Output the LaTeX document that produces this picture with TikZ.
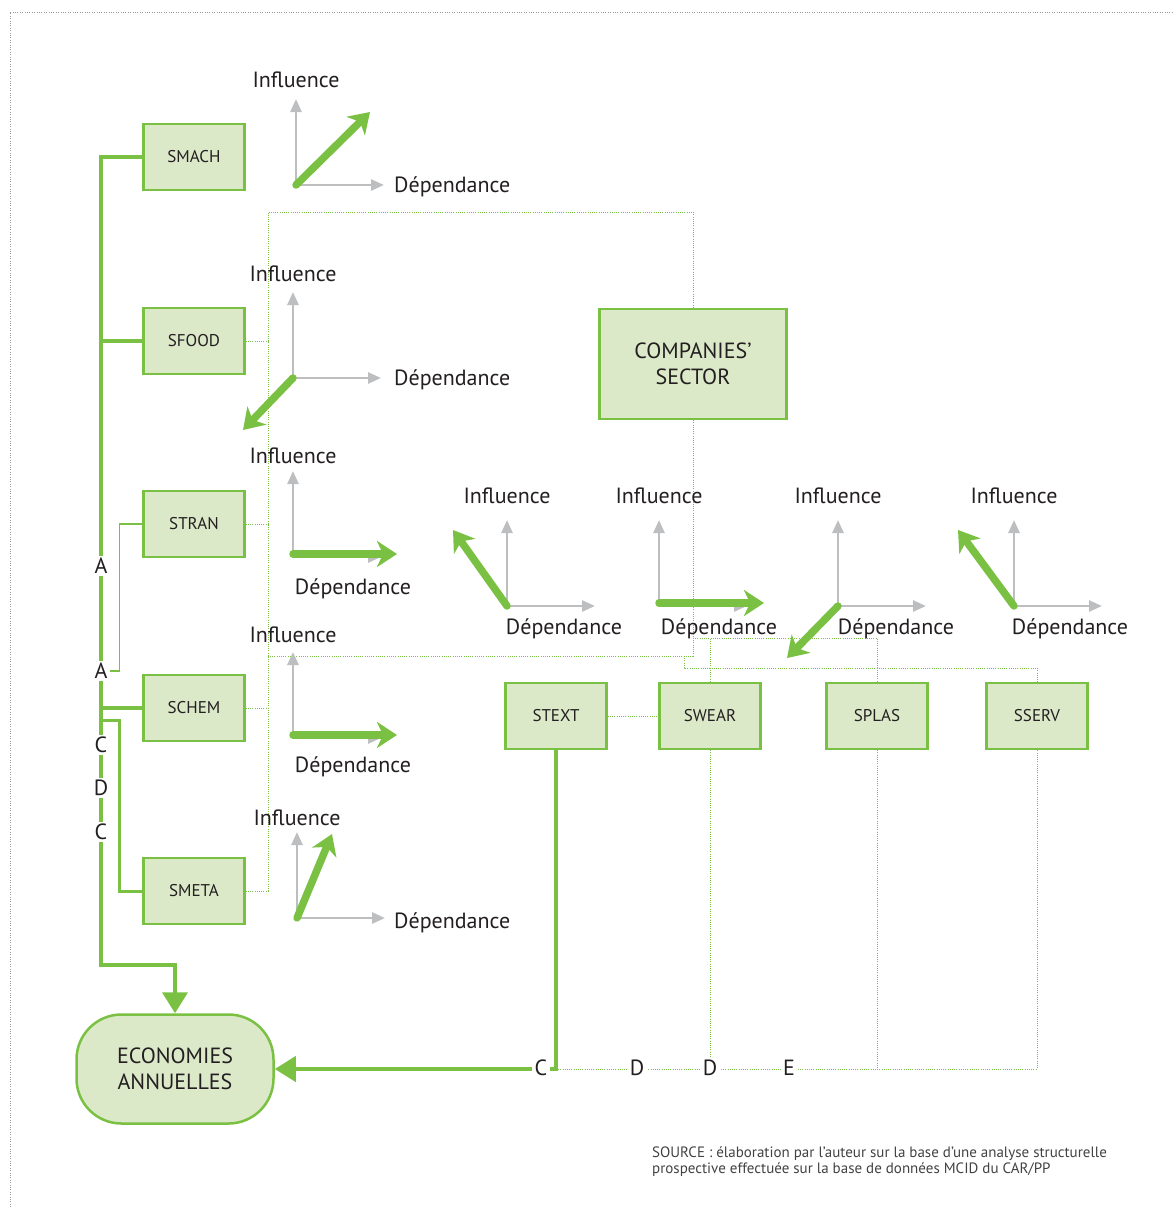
\documentclass[tikz,border=0pt]{standalone}
\usepackage{fontspec}
\setmainfont{PT Sans}
\usepackage{tikz}
\usetikzlibrary{arrows.meta, calc, positioning}

\definecolor{leaf}{HTML}{7AC143}
\definecolor{pale}{HTML}{DCE9C9}
\definecolor{axisgray}{HTML}{BCBEC0}
\definecolor{ink}{HTML}{231F20}

\tikzset{
  sector/.style={draw=leaf, fill=pale, line width=2.5pt, minimum width=101pt,
    minimum height=66pt, text=ink, font=\fontsize{17}{20}\selectfont},
  axis/.style={draw=axisgray, line width=2.6pt, -{Triangle[length=13pt,width=11pt]}},
  trend/.style={draw=leaf, line width=7.5pt, line cap=round,
    -{Stealth[length=20pt,width=26pt,inset=6pt]}},
  axislabel/.style={text=ink, inner sep=0pt, font=\fontsize{22}{26}\selectfont},
  bus/.style={draw=leaf, line width=4pt},
  link/.style={draw=leaf, line width=1pt, dash pattern=on 1pt off 1.2pt},
  tag/.style={fill=white, text=ink, inner sep=2.5pt, font=\fontsize{22}{24}\selectfont},
  bigtip/.style={-{Triangle[length=21pt,width=25pt]}},
}

% axes of one small chart, with its Influence label
\newcommand{\chart}[4]{%
  \coordinate (#1) at (#2,#3);
  \draw[axis] (#1) -- ++(0,-86);
  \draw[axis] (#1) -- ++(88,0);
  \node[axislabel, anchor=base] (#1inf) at ($(#1)+(0,#4)$) {Influence};
}

\begin{document}
\begin{tikzpicture}[x=1pt, y=-1pt]
\useasboundingbox (0,0) rectangle (1173,1207);
\draw[draw=axisgray!80!black, line width=0.8pt, dash pattern=on 0.8pt off 1.6pt]
  (10,1207) -- (10,12) -- (1173,12);

% boxes
\node[sector] (smach) at (194,157) {SMACH};
\node[sector] (sfood) at (194,341) {SFOOD};
\node[sector] (stran) at (194,524) {STRAN};
\node[sector] (schem) at (194,708) {SCHEM};
\node[sector] (smeta) at (194,891) {SMETA};
\node[sector] (stext) at (556,716) {STEXT};
\node[sector] (swear) at (710,716) {SWEAR};
\node[sector] (splas) at (877,716) {SPLAS};
\node[sector] (sserv) at (1037,716) {SSERV};
\node[sector, minimum width=187pt, minimum height=110pt, align=center,
  font=\fontsize{22}{26}\selectfont] (cs) at (693,364) {COMPANIES’\\SECTOR};
\node[sector, rounded corners=45pt, minimum width=197pt, minimum height=109pt,
  align=center, font=\fontsize{22}{26}\selectfont] (eco) at (175,1069) {ECONOMIES\\ANNUELLES};

% dotted links round the companies' sector
\coordinate (tl) at (268,212);
\draw[link] (cs.north) |- (tl) -- (tl |- smeta.east) -- (smeta.east);
\foreach \s in {sfood,stran,schem}
  \draw[link] (\s.east) -- (\s.east -| tl);
\draw[link] (cs.south) |- (tl |- 0,656);
\draw[link] (cs.south |- 0,638) -| (splas.north);
\draw[link] (swear.north) -- (swear.north |- 0,638);
\draw[link] (684,656) |- (sserv.north |- 0,668) -- (sserv.north);
\draw[link] (stext.east) -- (swear.west);

% left bus down to the savings
\coordinate (bus) at (101,157);
\draw[bus, bigtip] (smach.west) -| (101,965) -| (eco.north);
\draw[bus] (sfood.west) -- (sfood.west -| bus);
\draw[bus] (schem.west) -- (schem.west -| bus);
\draw[draw=leaf, line width=3pt] (smeta.west) -- ++(-23,0) |- (101,720);
\node[tag] (a1) at (101,566) {A};
\node[tag] (a2) at (101,671) {A};
\node[tag] (c1) at (101,745) {C};
\node[tag] (d1) at (101,788) {D};
\node[tag] (c2) at (101,832) {C};
\draw[draw=leaf, line width=1.3pt] (stran.west) -- ++(-23,0) |- (a2.east);

% bottom line into the savings
\draw[bus, bigtip] (stext.south) |- (eco.east);
\draw[link] (stext.south |- eco.east) -- (sserv.south |- eco.east) -- (sserv.south);
\draw[link] (splas.south) -- (splas.south |- eco.east);
\node[tag] (c3) at (541,1068) {C};
\node[tag] (d2) at (637,1068) {D};
\node[tag] (d3) at (710,1068) {D};
\node[tag] (e1) at (789,1068) {E};
\draw[link] (swear.south) -- (d3.north);

% small charts
\chart{p1}{296}{185}{-97}
\draw[trend] (p1) -- ++(74,-73);
\node[axislabel, anchor=base west] (p1dep) at (394,192) {Dépendance};

\chart{p2}{293}{378}{-97}
\draw[trend] (p2) -- ++(-50,52);
\node[axislabel, anchor=base west] (p2dep) at (394,385) {Dépendance};

\chart{p3}{293}{557}{-94}
\draw[trend] ($(p3)+(0,-3)$) -- ++(104,0);
\node[axislabel, anchor=base] (p3dep) at (353,594) {Dépendance};

\chart{p4}{293}{738}{-96}
\draw[trend] ($(p4)+(0,-3)$) -- ++(104,0);
\node[axislabel, anchor=base] (p4dep) at (353,772) {Dépendance};

\chart{p5}{297}{918}{-93}
\draw[trend] (p5) -- ++(35,-84);
\node[axislabel, anchor=base west] (p5dep) at (394,928) {Dépendance};

\chart{p6}{507}{606}{-103}
\draw[trend] (p6) -- ++(-54,-76);
\node[axislabel, anchor=base] (p6dep) at (564,634) {Dépendance};

\chart{p7}{659}{606}{-103}
\draw[trend] ($(p7)+(0,-3)$) -- ++(105,0);
\node[axislabel, anchor=base] (p7dep) at (719,634) {Dépendance};

\chart{p8}{838}{606}{-103}
\draw[trend] (p8) -- ++(-51,52);
\node[axislabel, anchor=base] (p8dep) at (896,634) {Dépendance};

\chart{p9}{1014}{606}{-103}
\draw[trend] (p9) -- ++(-56,-76);
\node[axislabel, anchor=base] (p9dep) at (1070,634) {Dépendance};

% source
\node[anchor=north west, align=left, inner sep=0pt, text=ink!85,
  font=\fontsize{15}{16}\selectfont] (src) at (652,1146)
  {SOURCE : élaboration par l’auteur sur la base d’une analyse structurelle\\
   prospective effectuée sur la base de données MCID du CAR/PP};
\end{tikzpicture}
\end{document}
